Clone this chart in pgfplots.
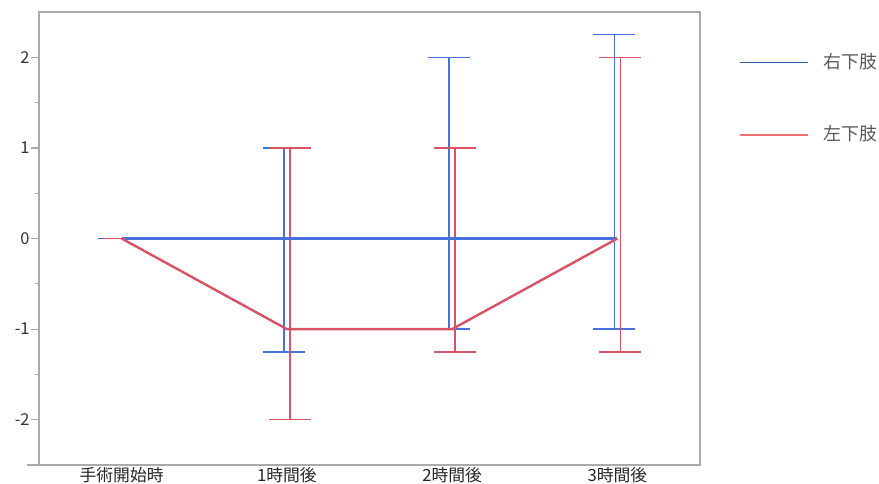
\documentclass[border=0pt]{standalone}
\usepackage{pgfplots}
\pgfplotsset{compat=1.18}
\usepackage{fontspec}
\setmainfont{Noto Sans CJK JP}

\definecolor{rightblue}{RGB}{70,112,224}
\definecolor{leftred}{RGB}{216,82,102}
\definecolor{legblue}{RGB}{40,96,176}
\definecolor{legred}{RGB}{240,112,116}
\definecolor{framegray}{RGB}{170,170,170}

\begin{document}
\begin{tikzpicture}
\path[use as bounding box] (0pt,0pt) rectangle (439.5pt,241.5pt);
\begin{axis}[
  at={(19.5pt,9pt)}, anchor=south west,
  scale only axis, width=330.5pt, height=226.5pt,
  xmin=-0.5, xmax=3.5, ymin=-2.5, ymax=2.5,
  axis line style={framegray, line width=0.75pt},
  xtick={0,1,2,3},
  xticklabels={手術開始時,1時間後,2時間後,3時間後},
  ytick={-2,-1,0,1,2},
  yticklabels={-2,-1,0,1,2},
  minor y tick num=1,
  tick align=outside,
  major tick length=4pt, minor tick length=2pt,
  tick style={framegray, line width=0.6pt},
  x tick style={draw=none},
  ytick pos=left, xtick pos=bottom,
  yticklabel style={font=\fontsize{8.2}{9}\selectfont, text=black!80, inner sep=0.5pt},
  xticklabel style={font=\fontsize{8.4}{9}\selectfont, text=black!85, inner sep=0.5pt, yshift=3.5pt},
  legend image code/.code={\draw[#1] (0pt,0pt) -- (34pt,0pt);},
  legend cell align=left,
  legend style={draw=none, fill=none, inner sep=0pt,
    at={(rel axis cs:1,1)}, anchor=north west, xshift=19.5pt, yshift=-20.5pt,
    font=\fontsize{9}{10}\selectfont, text=black!65,
    row sep=27pt, column sep=7pt, nodes={inner sep=0pt}},
]
% right limb: error bars, shifted slightly left of each category
\addplot[forget plot, draw=none, mark=none,
  error bars/.cd, y dir=both, y explicit, error mark=|,
  error bar style={draw=rightblue, line width=0.75pt},
  error mark options={draw=rightblue, line width=0.75pt, mark size=10.5pt}]
  table[x=x, y=y, y error plus=ep, y error minus=em] {
  x       y  ep    em
  -0.018  0  0     0
  0.982   0  1     1.25
  1.982   0  2     1
  2.982   0  2.25  1
};
% left limb: error bars, shifted slightly right of each category
\addplot[forget plot, draw=none, mark=none,
  error bars/.cd, y dir=both, y explicit, error mark=|,
  error bar style={draw=leftred, line width=0.75pt},
  error mark options={draw=leftred, line width=0.75pt, mark size=10.5pt}]
  table[x=x, y=y, y error plus=ep, y error minus=em] {
  x      y   ep  em
  0.018  0   0   0
  1.018 -1   2   1
  2.018 -1   2   0.25
  3.018  0   2   1.25
};
% mean lines
\addplot[forget plot, rightblue, line width=1.2pt, mark=none] coordinates {
  (0,0) (1,0) (2,0) (3,0)};
\addplot[forget plot, leftred, line width=1.2pt, mark=none] coordinates {
  (0,0) (1,-1) (2,-1) (3,0)};

\addlegendimage{legblue, line width=0.6pt}
\addlegendentry{右下肢}
\addlegendimage{legred, line width=1pt}
\addlegendentry{左下肢}
\end{axis}
\draw[framegray, line width=0.75pt] (13.5pt,9pt) -- (19.5pt,9pt);
\end{tikzpicture}
\end{document}
